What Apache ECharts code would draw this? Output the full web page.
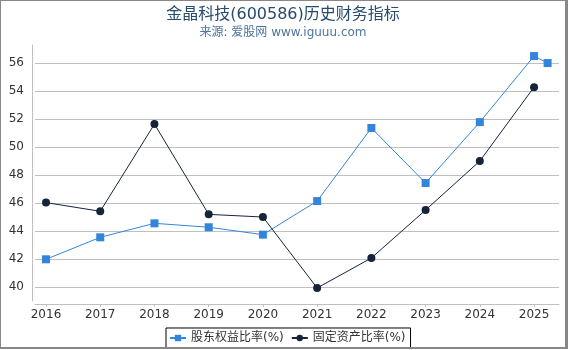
<!DOCTYPE html>
<html><head><meta charset="utf-8">
<script src="https://cdn.jsdelivr.net/npm/echarts@6/dist/echarts.min.js"></script>
<style>
html,body{margin:0;padding:0;background:#fff;}
#c{position:absolute;left:0;top:0;width:564px;height:346px;border-left:1px solid #888;border-top:1px solid #888;border-right:3px solid #888;border-bottom:2px solid #888;}
</style></head>
<body><div id="c"></div>
<script>
const titleText = '金晶科技(600586)历史财务指标';
const subText = '来源: 爱股网 www.iguuu.com';
const seriesNames = ['股东权益比率(%)', '固定资产比率(%)'];
const equityX = [2016, 2017, 2018, 2019, 2020, 2021, 2022, 2023, 2024, 2025, 2025.25];
const equityY = [42.0, 43.57, 44.57, 44.29, 43.76, 46.16, 51.38, 47.45, 51.8, 56.52, 56.02];
const fixedX = [2016, 2017, 2018, 2019, 2020, 2021, 2022, 2023, 2024, 2025];
const fixedY = [46.05, 45.43, 51.66, 45.21, 45.02, 39.95, 42.09, 45.52, 49.02, 54.3];

const font = 'DejaVu Sans, Noto Sans CJK SC, sans-serif';
const chart = echarts.init(document.getElementById('c'));
chart.setOption({
  animation: false,
  textStyle: {fontFamily: font},
  title: {
    text: titleText, subtext: subText, left: 'center', top: 1, itemGap: 4,
    textStyle: {fontSize: 16, fontWeight: 'normal', color: '#274b6d', fontFamily: font},
    subtextStyle: {fontSize: 12, color: '#4d759e', fontFamily: font}
  },
  legend: {
    bottom: -1, left: 165,
    borderColor: '#000', borderWidth: 1, padding: [4, 5, 4, 3],
    itemWidth: 16, itemHeight: 8, itemGap: 7,
    textStyle: {fontSize: 12, color: '#333', fontFamily: font},
    data: seriesNames
  },
  grid: {left: 34, right: 6, top: 44, bottom: 46},
  xAxis: {
    type: 'value', min: 2015.797, max: 2025.46, minInterval: 1, maxInterval: 1,
    offset: 3,
    axisLine: {lineStyle: {color: '#c0c0c0'}},
    axisTick: {show: true, length: 3, lineStyle: {color: '#c0c0c0'}},
    axisLabel: {showMinLabel: false, showMaxLabel: false, color: '#333', fontSize: 12, margin: 5, formatter: v => String(Math.round(v))},
    splitLine: {show: false}
  },
  yAxis: {
    type: 'value', min: 39.02, max: 57.31, minInterval: 2, maxInterval: 2,
    offset: 3,
    axisLine: {show: true, lineStyle: {color: '#c0c0c0'}},
    axisTick: {show: false},
    axisLabel: {showMinLabel: false, showMaxLabel: false, color: '#333', fontSize: 12, margin: 8},
    splitLine: {show: true, showMinLine: false, showMaxLine: false, lineStyle: {color: '#c0c0c0'}}
  },
  series: [
    {name: seriesNames[0], type: 'line', data: equityX.map((x, i) => [x, equityY[i]]),
     symbol: 'rect', symbolSize: 8, lineStyle: {width: 1, color: '#3385db'}, itemStyle: {color: '#3385db'}},
    {name: seriesNames[1], type: 'line', data: fixedX.map((x, i) => [x, fixedY[i]]),
     symbol: 'circle', symbolSize: 8, lineStyle: {width: 1, color: '#15243a'}, itemStyle: {color: '#15243a'}}
  ]
});
</script></body></html>
